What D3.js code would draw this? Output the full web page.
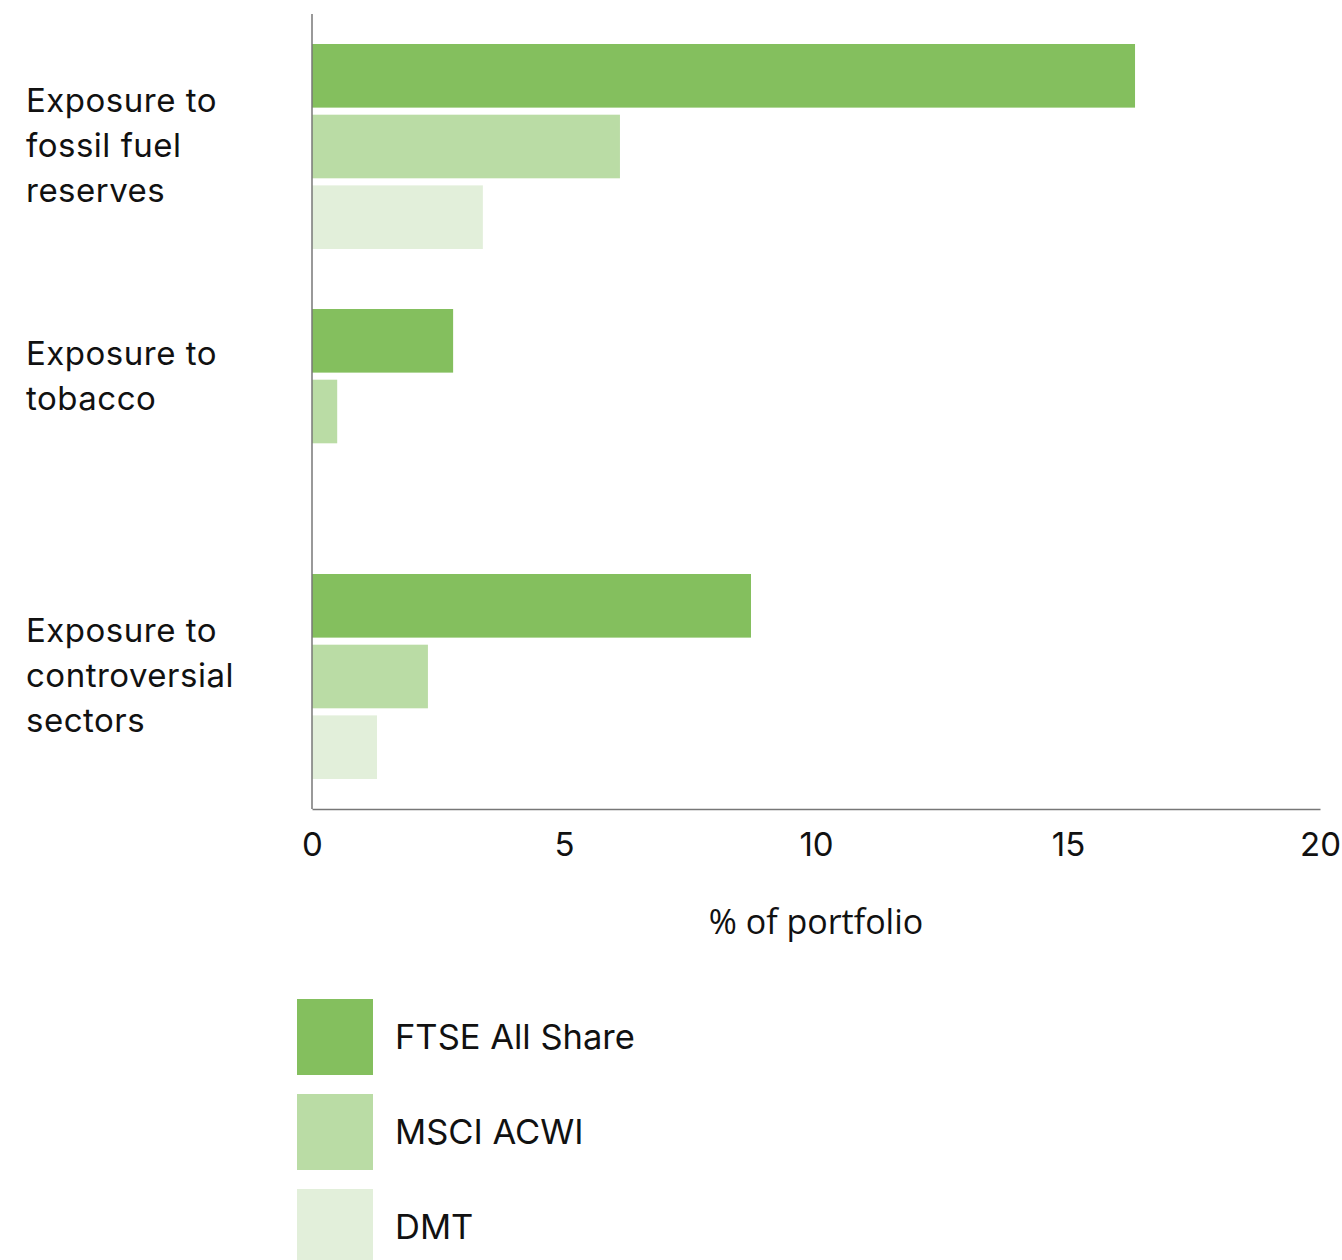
<!DOCTYPE html>
<html><head><meta charset="utf-8">
<script src="https://cdn.jsdelivr.net/npm/d3@7"></script>
<style>body{margin:0;background:#fff}svg{display:block;font-family:Inter,"Noto Sans",sans-serif}</style>
</head><body><svg id="c" width="1342" height="1260"></svg>
<script>
const categories = ["Exposure to fossil fuel reserves","Exposure to tobacco","Exposure to controversial sectors"];
const categoryLines = [["Exposure to","fossil fuel","reserves"],["Exposure to","tobacco"],["Exposure to","controversial","sectors"]];
const seriesNames = ["FTSE All Share","MSCI ACWI","DMT"];
const ftse = [16.33, 2.8, 8.71];
const msci = [6.11, 0.5, 2.3];
const dmt = [3.39, 0, 1.29];
const xTicks = [0,5,10,15,20];
const colors = ["#84bf5e","#badca5","#e2efda"];
const seriesValues = [ftse, msci, dmt];

const svg = d3.select("#c");
const x = d3.scaleLinear().domain([0,20]).range([312,1320]);
const y0 = d3.scaleBand().domain(categories).range([14,809]);
const y1 = d3.scaleBand().domain(seriesNames).range([30, y0.bandwidth()-30]).paddingInner(0.1);

const g = svg.append("g");
categories.forEach((c,ci)=>{
  seriesNames.forEach((s,si)=>{
    const v = seriesValues[si][ci];
    if (v<=0) return;
    g.append("rect").attr("x",x(0)).attr("y",y0(c)+y1(s))
      .attr("width",x(v)-x(0)).attr("height",y1.bandwidth()).attr("fill",colors[si]);
  });
  const ys = seriesNames.filter((s,si)=>seriesValues[si][ci]>0).map(s=>y0(c)+y1(s)+y1.bandwidth()/2);
  const cy = d3.mean(ys) - 1;
  const lines = categoryLines[ci];
  const lh = 45;
  const t = svg.append("text").attr("x",26).attr("font-size",33).attr("letter-spacing","0.5px").attr("fill","#111");
  lines.forEach((l,li)=>{
    t.append("tspan").attr("x",26).attr("y",cy+(li-(lines.length-1)/2)*lh).attr("dy","0.36em").text(l);
  });
});

const xAxis = svg.append("g").attr("transform","translate(0,809)")
  .call(d3.axisBottom(x).tickValues(xTicks).tickSize(0).tickPadding(24).tickFormat(d3.format("d")));
xAxis.select(".domain").attr("stroke","#777").attr("stroke-width",1.5);
xAxis.selectAll("text").attr("font-size",33).attr("fill","#111").attr("font-family","Inter,'Noto Sans',sans-serif");
svg.append("line").attr("x1",x(0)).attr("x2",x(0)).attr("y1",y0.range()[0]).attr("y2",y0.range()[1])
  .attr("stroke","#777").attr("stroke-width",1.5);

svg.append("text").attr("x",(x(0)+x(20))/2).attr("y",934).attr("text-anchor","middle")
  .attr("font-size",34).attr("fill","#111").attr("font-family","'Open Sans','Noto Sans',sans-serif").text("% of portfolio");

const ly = d3.scaleBand().domain(seriesNames).range([999, 1265]).paddingInner(0.2);
seriesNames.forEach((s,i)=>{
  svg.append("rect").attr("x",297).attr("y",ly(s)).attr("width",76).attr("height",ly.bandwidth()).attr("fill",colors[i]);
  svg.append("text").attr("x",395).attr("y",ly(s)+ly.bandwidth()/2).attr("dy","0.36em").attr("font-size",34.5).attr("fill","#111").text(s);
});
</script></body></html>
